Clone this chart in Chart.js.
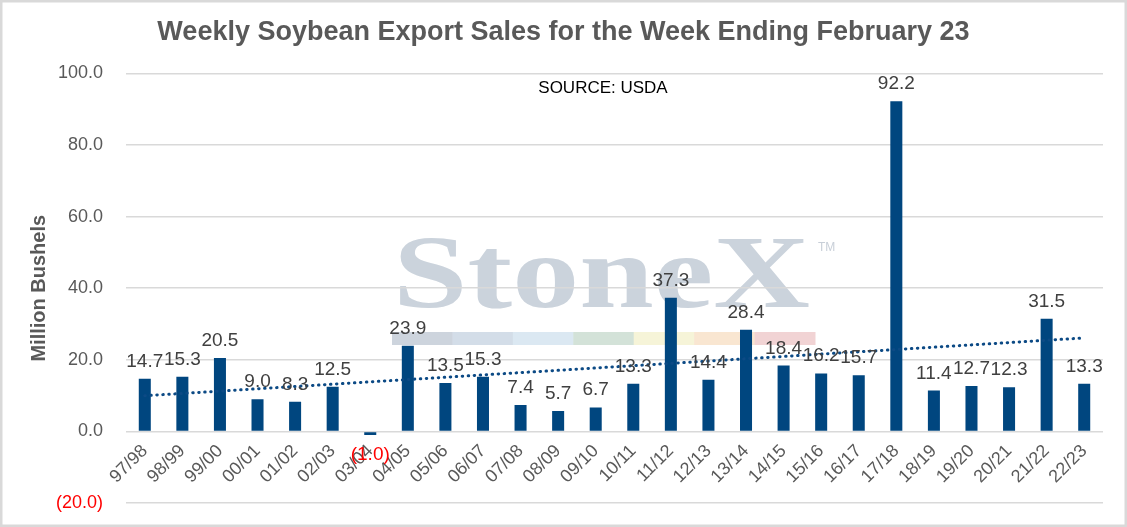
<!DOCTYPE html>
<html>
<head>
<meta charset="utf-8">
<title>Weekly Soybean Export Sales</title>
<script src="https://cdn.jsdelivr.net/npm/chart.js@4.4.0/dist/chart.umd.min.js"></script>
<style>
  body { margin: 0; background: #fff; }
  canvas { display: block; }
</style>
</head>
<body>
<canvas id="myChart" width="1127" height="527"></canvas>
<script>
// marketing years
const years = ['97/98', '98/99', '99/00', '00/01', '01/02', '02/03', '03/04', '04/05', '05/06', '06/07',
  '07/08', '08/09', '09/10', '10/11', '11/12', '12/13', '13/14', '14/15', '15/16', '16/17',
  '17/18', '18/19', '19/20', '20/21', '21/22', '22/23'];

// weekly export sales, million bushels (week ending Feb 23)
const sales = [14.7, 15.3, 20.5, 9.0, 8.3, 12.5, -1.0, 23.9, 13.5, 15.3,
  7.4, 5.7, 6.7, 13.3, 37.3, 14.4, 28.4, 18.4, 16.2, 15.7,
  92.2, 11.4, 12.7, 12.3, 31.5, 13.3];

// y axis ticks
const yMin = -20;
const yMax = 100;
const yStep = 20;

const titleText = 'Weekly Soybean Export Sales for the Week Ending February 23';
const sourceText = 'SOURCE: USDA';

// linear trendline (same as the excel one)
function trendOf(vals) {
  const n = vals.length;
  let sx = 0, sy = 0, sxy = 0, sxx = 0;
  vals.forEach((v, i) => { sx += i; sy += v; sxy += i * v; sxx += i * i; });
  const b = (n * sxy - sx * sy) / (n * sxx - sx * sx);
  const a = (sy - b * sx) / n;
  return vals.map((v, i) => a + b * i);
}
const trend = trendOf(sales);

function fmt(v) {
  return v < 0 ? '(' + Math.abs(v).toFixed(1) + ')' : v.toFixed(1);
}

// background, logo watermark, source note, frame
const decoPlugin = {
  id: 'deco',
  beforeDraw(chart) {
    const ctx = chart.ctx;
    ctx.save();
    ctx.fillStyle = '#fff';
    ctx.fillRect(0, 0, chart.width, chart.height);

    // StoneX watermark
    ctx.font = 'bold 103px "Liberation Serif"';
    ctx.fillStyle = '#cbd3dc';
    ctx.textBaseline = 'alphabetic';
    const w = ctx.measureText('StoneX').width;
    ctx.translate(393, 307);
    ctx.scale(417 / w, 1);
    ctx.fillText('StoneX', 0, 0);
    ctx.setTransform(1, 0, 0, 1, 0, 0);
    ctx.font = '12px "Liberation Sans"';
    ctx.fillStyle = '#c8cfd8';
    ctx.fillText('TM', 818, 251);

    // colour strip under the logo
    const strip = ['#cdd4dd', '#d3dde8', '#dbe8f2', '#d3e2d8', '#f6f4d8', '#f9e6d1', '#f1d3d4'];
    const sw = 423 / strip.length;
    strip.forEach((c, i) => {
      ctx.fillStyle = c;
      ctx.fillRect(392 + i * sw, 332, sw + 0.5, 13);
    });

    ctx.font = '17px "Liberation Sans"';
    ctx.fillStyle = '#000';
    ctx.textAlign = 'center';
    ctx.textBaseline = 'middle';
    ctx.fillText(sourceText, 603, 88);
    ctx.restore();
  },
  afterDraw(chart) {
    const ctx = chart.ctx;
    ctx.save();
    ctx.strokeStyle = '#d9d9d9';
    ctx.lineWidth = 2.5;
    ctx.strokeRect(1.25, 1.25, chart.width - 2.5, chart.height - 2.5);
    ctx.restore();
  }
};

// value labels on the bars
const barLabels = {
  id: 'barLabels',
  afterDatasetsDraw(chart) {
    const ctx = chart.ctx;
    const meta = chart.getDatasetMeta(0);
    ctx.save();
    ctx.font = '19px "Liberation Sans"';
    ctx.textAlign = 'center';
    meta.data.forEach((bar, i) => {
      const v = sales[i];
      if (v < 0) {
        ctx.fillStyle = '#ff0000';
        ctx.textBaseline = 'top';
        ctx.fillText(fmt(v), bar.x, bar.y + 10);
      } else {
        ctx.fillStyle = '#404040';
        ctx.textBaseline = 'alphabetic';
        ctx.fillText(fmt(v), bar.x, bar.y - 12);
      }
    });
    ctx.restore();
  }
};

const ctx = document.getElementById('myChart').getContext('2d');
const myChart = new Chart(ctx, {
  type: 'bar',
  data: {
    labels: years,
    datasets: [{
      label: 'Weekly sales',
      data: sales,
      backgroundColor: '#00467f',
      barPercentage: 0.32,
      categoryPercentage: 1.0,
      order: 2
    }, {
      type: 'line',
      label: 'Linear trend',
      data: trend,
      borderColor: '#0c4a85',
      borderWidth: 3,
      borderDash: [0.5, 5.5],
      borderCapStyle: 'round',
      pointRadius: 0,
      fill: false,
      order: 1
    }]
  },
  options: {
    responsive: false,
    devicePixelRatio: 1,
    animation: false,
    layout: { padding: { left: 24, right: 24, top: 0, bottom: 24 } },
    plugins: {
      legend: { display: false },
      tooltip: { enabled: false },
      title: {
        display: true,
        text: titleText,
        color: '#595959',
        font: { family: '"Liberation Sans"', size: 27, weight: 'bold' },
        padding: { top: 16, bottom: 25 }
      }
    },
    scales: {
      x: {
        position: { y: 0 },
        offset: true,
        afterFit(scale) {
          scale.paddingTop = 0;
          scale.paddingBottom = 0;
        },
        grid: { display: false, drawTicks: false },
        border: { display: false },
        ticks: {
          autoSkip: false,
          minRotation: 45,
          maxRotation: 45,
          padding: 9,
          color: '#595959',
          font: { family: '"Liberation Sans"', size: 18 }
        }
      },
      y: {
        min: yMin,
        max: yMax,
        afterFit(scale) {
          scale.width = 102;
          scale.paddingTop = 0;
          scale.paddingBottom = 0;
        },
        grid: { color: '#d9d9d9', lineWidth: 1.5, drawTicks: false },
        border: { display: false },
        ticks: {
          stepSize: yStep,
          padding: 23,
          color: (c) => c.tick.value < 0 ? '#ff0000' : '#595959',
          font: { family: '"Liberation Sans"', size: 18 },
          callback: (v) => fmt(v)
        },
        title: {
          display: true,
          text: 'Million Bushels',
          color: '#595959',
          font: { family: '"Liberation Sans"', size: 20, weight: 'bold' },
          padding: { top: 3, bottom: 0 }
        }
      }
    }
  },
  plugins: [decoPlugin, barLabels]
});
</script>
</body>
</html>
